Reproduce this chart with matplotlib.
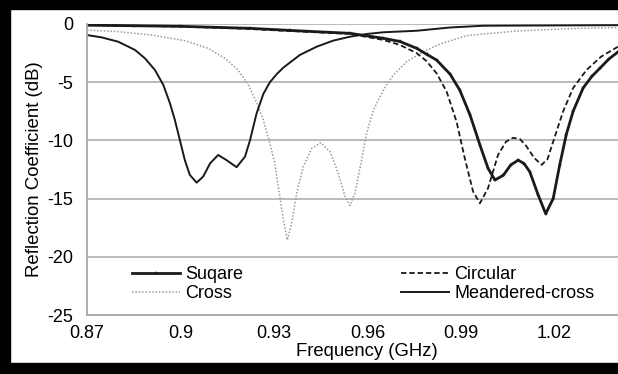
import matplotlib
matplotlib.use("Agg")
import matplotlib.pyplot as plt
from matplotlib.patches import Rectangle

plt.rcParams['font.family'] = ['Liberation Sans', 'DejaVu Sans']
plt.rcParams['axes.unicode_minus'] = False

# Square
sq_f = [0.870, 0.885, 0.900, 0.9223, 0.935, 0.9544, 0.9651, 0.9704, 0.9758, 0.9790,
        0.9822, 0.9865, 0.9896, 0.9929, 0.9961, 0.9987, 1.0009, 1.0036, 1.0060, 1.0084,
        1.0103, 1.0121, 1.0148, 1.0172, 1.0196, 1.0217, 1.0238, 1.0260, 1.0292, 1.0320,
        1.0346, 1.0375, 1.0404]
sq_db = [-0.10, -0.15, -0.20, -0.37, -0.55, -0.80, -1.23, -1.50, -2.09, -2.60,
         -3.10, -4.30, -5.67, -7.80, -10.4, -12.4, -13.4, -13.0, -12.1, -11.7,
         -12.0, -12.7, -14.7, -16.3, -15.0, -12.1, -9.5, -7.5, -5.5, -4.5,
         -3.8, -3.0, -2.4]

# Circular
ci_f = [0.870, 0.885, 0.900, 0.920, 0.935, 0.9544, 0.9651, 0.9704, 0.9758, 0.9790,
        0.9822, 0.9854, 0.9886, 0.9912, 0.9939, 0.9961, 0.9987, 1.0019, 1.0045, 1.0068,
        1.0090, 1.0110, 1.0135, 1.0159, 1.0178, 1.0196, 1.0228, 1.0260, 1.0303, 1.0350,
        1.0404]
ci_db = [-0.10, -0.15, -0.22, -0.40, -0.60, -0.85, -1.37, -1.80, -2.50, -3.20,
         -4.24, -5.8, -8.4, -11.5, -14.4, -15.4, -14.1, -11.25, -10.1, -9.77,
         -9.9, -10.5, -11.5, -12.1, -11.6, -10.1, -7.5, -5.5, -3.95, -2.8,
         -1.95]

# Cross
cr_f = [0.8700, 0.8800, 0.8908, 0.9014, 0.9089, 0.9143, 0.9185, 0.9218, 0.9245, 0.9266,
        0.9287, 0.9303, 0.9314, 0.9330, 0.9343, 0.9357, 0.9373, 0.9394, 0.9421, 0.9450,
        0.9480, 0.9506, 0.9528, 0.9544, 0.9560, 0.9581, 0.9597, 0.9619, 0.9651, 0.9683,
        0.9726, 0.9779, 0.9833, 0.9918, 1.0079, 1.0250, 1.0404]
cr_db = [-0.52, -0.66, -0.95, -1.43, -2.09, -2.95, -3.95, -5.24, -6.8, -8.25,
         -10.25, -12.0, -14.0, -16.8, -18.56, -17.1, -14.5, -12.26, -10.7, -10.2,
         -10.97, -12.8, -14.8, -15.6, -14.5, -11.7, -9.4, -7.4, -5.67, -4.38,
         -3.24, -2.38, -1.72, -1.00, -0.60, -0.40, -0.30]

# Meandered-cross
me_f = [0.8700, 0.8747, 0.8800, 0.8854, 0.8886, 0.8918, 0.8945, 0.8966, 0.8982, 0.8998,
        0.9014, 0.9030, 0.9052, 0.9073, 0.9095, 0.9121, 0.9148, 0.9180, 0.9207, 0.9223,
        0.9244, 0.9266, 0.9287, 0.9309, 0.9330, 0.9383, 0.9437, 0.9490, 0.9544, 0.9597,
        0.9651, 0.9758, 0.9865, 0.9971, 1.0404]
me_db = [-0.95, -1.15, -1.52, -2.23, -2.95, -3.95, -5.24, -6.8, -8.25, -9.97,
         -11.7, -12.97, -13.63, -13.1, -11.97, -11.25, -11.7, -12.3, -11.4, -10.0,
         -7.7, -6.0, -5.0, -4.3, -3.75, -2.66, -1.95, -1.43, -1.09, -0.86,
         -0.71, -0.58, -0.30, -0.15, -0.10]

x_ticks = [0.87, 0.90, 0.93, 0.96, 0.99, 1.02]
x_tick_labels = ["0.87", "0.9", "0.93", "0.96", "0.99", "1.02"]
y_ticks = [0, -5, -10, -15, -20, -25]

W, H = 618, 374
fig = plt.figure(figsize=(W / 100, H / 100), dpi=100)
ax = fig.add_axes([87 / W, 59 / H, 1 - 87 / W, (315 - 24) / H])

ax.plot(cr_f, cr_db, color='#9a9a9a', lw=1.1, ls=(0, (1, 1.2)), label='Cross')
ax.plot(me_f, me_db, color='#1a1a1a', lw=1.4, ls='-', label='Meandered-cross')
ax.plot(ci_f, ci_db, color='#1a1a1a', lw=1.3, ls=(0, (3, 1.6)), label='Circular')
ax.plot(sq_f, sq_db, color='#1a1a1a', lw=2.0, ls='-', marker='s', ms=2.0,
        markeredgewidth=0.3, label='Suqare')

ax.set_xlim(0.87, 1.0404)
ax.set_ylim(-25, 0)
ax.set_xticks(x_ticks)
ax.set_xticklabels(x_tick_labels)
ax.set_yticks(y_ticks)
ax.yaxis.grid(True, color='#b4b4b4', lw=1.3)
ax.set_axisbelow(True)
ax.tick_params(axis='x', length=0, labelsize=13, pad=7)
ax.tick_params(axis='y', length=0, labelsize=13, pad=10)
for s in ['top', 'right']:
    ax.spines[s].set_visible(False)
for s in ['left', 'bottom']:
    ax.spines[s].set_color('#a8a8a8')
    ax.spines[s].set_linewidth(1.3)

ax.set_xlabel('Frequency (GHz)', fontsize=13.3, labelpad=1)
ax.xaxis.label.set_x((367 - 87) / (W - 87))
ax.set_ylabel('Reflection Coefficient (dB)', fontsize=13.4, labelpad=3)

h, l = ax.get_legend_handles_labels()
order = [3, 0, 2, 1]
ax.legend([h[i] for i in order], [l[i] for i in order], ncol=2, frameon=False,
          loc='lower left', bbox_to_anchor=(0.0847, 0.045), fontsize=13,
          handlelength=2.67, handletextpad=0.3, columnspacing=8.7,
          labelspacing=0.1, borderaxespad=0, borderpad=0)

# black frame around the image
k = 'black'
fig.patches.append(Rectangle((0, 1 - 9 / H), 1, 9 / H, transform=fig.transFigure, color=k, zorder=10))
fig.patches.append(Rectangle((0, 0), 10 / W, 1, transform=fig.transFigure, color=k, zorder=10))
fig.patches.append(Rectangle((0, 0), 1, 11 / H, transform=fig.transFigure, color=k, zorder=10))

fig.savefig('out.png', dpi=100)
